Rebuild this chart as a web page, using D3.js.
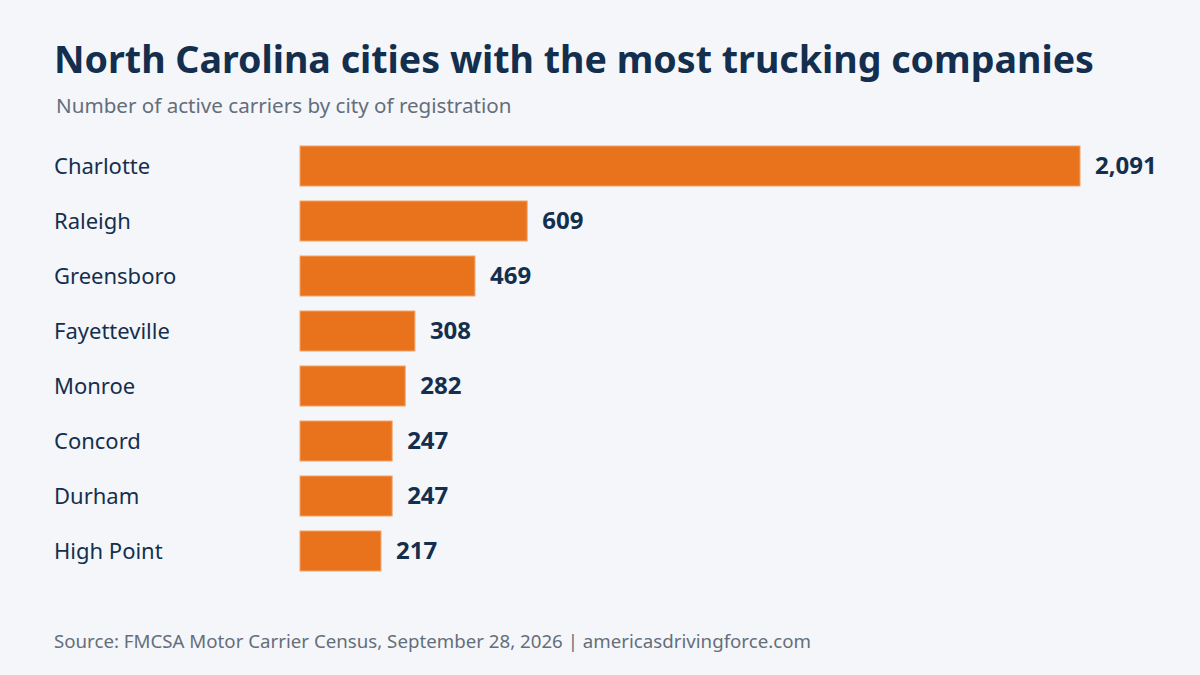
<!DOCTYPE html>
<meta charset="utf-8">
<script src="https://d3js.org/d3.v7.min.js"></script>
<style>
  body { margin: 0; background: #f4f6fa; }
  text { font-family: "Noto Sans", sans-serif; }
</style>
<svg id="chart" width="1200" height="675"></svg>
<script>
  const width = 1200;
  const height = 675;

  // data
  const cities = ["Charlotte", "Raleigh", "Greensboro", "Fayetteville", "Monroe", "Concord", "Durham", "High Point"];
  const carriers = [2091, 609, 469, 308, 282, 247, 247, 217];

  const navy = "#142f4e";
  const grey = "#646e7a";
  const orange = "#e8731c";

  const svg = d3.select("#chart");

  svg.append("rect")
    .attr("width", width)
    .attr("height", height)
    .attr("fill", "#f4f6fa");

  svg.append("text")
    .attr("x", 54)
    .attr("y", 73)
    .attr("font-size", 37.6)
    .attr("font-weight", 700)
    .attr("fill", navy)
    .text("North Carolina cities with the most trucking companies");

  svg.append("text")
    .attr("x", 56)
    .attr("y", 113)
    .attr("font-size", 20.6)
    .attr("fill", grey)
    .text("Number of active carriers by city of registration");

  const x = d3.scaleLinear()
    .domain([0, d3.max(carriers)])
    .range([300, 1080]);

  const y = d3.scaleBand()
    .domain(cities)
    .range([146, 571])
    .paddingInner(0.2727)
    .paddingOuter(0);

  const rows = cities.map((c, i) => ({ city: c, value: carriers[i] }));

  svg.append("g")
    .selectAll("rect")
    .data(rows)
    .join("rect")
    .attr("x", x(0))
    .attr("y", d => y(d.city))
    .attr("width", d => x(d.value) - x(0))
    .attr("height", y.bandwidth())
    .attr("fill", orange)
    .attr("stroke", "#f3a469")
    .attr("stroke-width", 1);

  svg.append("g")
    .selectAll("text")
    .data(rows)
    .join("text")
    .attr("x", 54)
    .attr("y", d => y(d.city) + y.bandwidth() / 2 + 8)
    .attr("font-size", 22)
    .attr("fill", navy)
    .text(d => d.city);

  svg.append("g")
    .selectAll("text")
    .data(rows)
    .join("text")
    .attr("x", d => x(d.value) + 15)
    .attr("y", d => y(d.city) + y.bandwidth() / 2 + 8)
    .attr("font-size", 24)
    .attr("font-weight", 700)
    .attr("fill", navy)
    .text(d => d3.format(",")(d.value));

  svg.append("text")
    .attr("x", 54)
    .attr("y", 648)
    .attr("font-size", 18.7)
    .attr("fill", grey)
    .text("Source: FMCSA Motor Carrier Census, September 28, 2026 | americasdrivingforce.com");
</script>
